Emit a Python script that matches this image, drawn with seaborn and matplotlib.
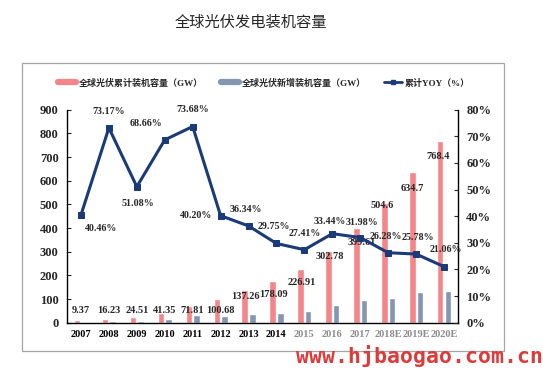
import numpy as np
import pandas as pd
import seaborn as sns
import matplotlib.pyplot as plt
from matplotlib.patches import Rectangle
from matplotlib.lines import Line2D

# data
years = ["2007", "2008", "2009", "2010", "2011", "2012", "2013", "2014",
         "2015", "2016", "2017", "2018E", "2019E", "2020E"]
cumulative = [9.37, 16.23, 24.51, 41.35, 71.81, 100.68, 137.26, 178.09,
              226.91, 302.78, 399.61, 504.6, 634.7, 768.4]
new_added = [2.6, 6.86, 8.28, 16.84, 30.46, 28.87, 36.58, 40.83,
             48.82, 75.87, 96.83, 104.99, 130.1, 133.7]
yoy = [40.46, 73.17, 51.08, 68.66, 73.68, 40.20, 36.34, 29.75,
       27.41, 33.44, 31.98, 26.28, 25.78, 21.06]

cum_label = "全球光伏累计装机容量（GW）"
new_label = "全球光伏新增装机容量（GW）"
yoy_label = "累计YOY（%）"

sns.set_style("white")
plt.rcParams["font.family"] = ["Liberation Serif", "Noto Sans CJK SC", "DejaVu Sans"]

red = "#F4868A"
grey = "#8496B0"
navy = "#1B3A78"

df = pd.DataFrame({
    "year": years * 2,
    "value": cumulative + new_added,
    "series": [cum_label] * len(years) + [new_label] * len(years),
})

fig = plt.figure(figsize=(5.43, 3.8), dpi=100)
# outer frame
fig.patches.append(Rectangle((22 / 543, 1 - 351 / 380), 482 / 543, 288 / 380,
                             transform=fig.transFigure, fill=False,
                             edgecolor="#A6A6A6", linewidth=0.9))

ax = fig.add_axes([67 / 543, 1 - 322.7 / 380, 391 / 543, 213 / 380])
sns.barplot(data=df, x="year", y="value", hue="series", order=years,
            palette=[red, grey], width=0.55, gap=0.15, ax=ax, legend=False,
            saturation=1)
ax.set_ylim(0, 900)
ax.set_xlim(-0.5, len(years) - 0.5)
ax.set_yticks(range(0, 901, 100))
ax.set_xlabel("")
ax.set_ylabel("")
for s in ["top", "right"]:
    ax.spines[s].set_visible(False)
for s in ["left", "bottom"]:
    ax.spines[s].set_color("black")
    ax.spines[s].set_linewidth(1.0)
ax.tick_params(axis="y", direction="in", length=3, labelsize=9, pad=6)
ax.tick_params(axis="x", length=0, labelsize=7.5, pad=5)
for t in ax.get_yticklabels():
    t.set_fontweight("bold")
for i, t in enumerate(ax.get_xticklabels()):
    t.set_fontweight("bold")
    t.set_color("black" if i < 8 else "#8C8C8C")

# cumulative labels
lab_y = [53, 53, 53, 53, 53, 53, 110, 121, 169, 281, 338, 497, 569, 701]
lab_dx = [0, 0, 0, 0, 0, 0, -0.1, -0.1, -0.1, -0.1, 0.05, -0.2, -0.15, -0.2]
for i, (v, y) in enumerate(zip(cumulative, lab_y)):
    ax.text(i + lab_dx[i], y, f"{v:g}" if v not in (100.68, 71.81, 41.35) else f"{v:.2f}",
            ha="center", va="center", fontsize=7.5, fontweight="bold")

ax2 = ax.twinx()
sns.lineplot(x=np.arange(len(years)), y=yoy, ax=ax2, color=navy, linewidth=2.2,
             marker="s", markersize=5, markeredgecolor=navy)
ax2.set_ylim(0, 80)
ax2.set_yticks(range(0, 81, 10))
ax2.set_yticklabels([f"{v}%" for v in range(0, 81, 10)])
for s in ["top", "left", "bottom"]:
    ax2.spines[s].set_visible(False)
ax2.spines["right"].set_color("black")
ax2.spines["right"].set_linewidth(1.0)
ax2.tick_params(axis="y", direction="in", length=3, labelsize=9, pad=6)
for t in ax2.get_yticklabels():
    t.set_fontweight("bold")

yoy_off = [(3, -10), (0, 12), (1, -12), (-2, 12), (0, 12), (-6, 0), (-2, 12), (-2, 12),
           (0, 12), (-2, 9), (1, 11), (-2, 12), (1, 12), (1, 12)]
yoy_ha = ["left", "center", "center", "right", "center", "right", "center", "center",
          "center", "center", "center", "center", "center", "center"]
for i, v in enumerate(yoy):
    ax2.annotate(f"{v:.2f}%", (i, v), xytext=yoy_off[i], textcoords="offset points",
                 ha=yoy_ha[i], va="center", fontsize=7.2, fontweight="bold")

# legend
handles = [Line2D([], [], color=red, linewidth=4.5),
           Line2D([], [], color=grey, linewidth=4.5),
           Line2D([], [], color=navy, linewidth=2, marker="s", markersize=3.5)]
fig.legend(handles, [cum_label, new_label, yoy_label], loc="center",
           bbox_to_anchor=(264 / 543, 1 - 83 / 380), ncol=3, frameon=False,
           prop={"size": 6.5, "weight": "bold"}, handlelength=2.0,
           handletextpad=0.3, columnspacing=2.0)

fig.text(251 / 543, 1 - 22 / 380, "全球光伏发电装机容量", ha="center", va="center",
         fontsize=11, family=["Noto Sans CJK SC", "DejaVu Sans"])

fig.text(543 / 543, 1 - 356 / 380, "www.hjbaogao.com.cn",
         ha="right", va="center", fontsize=15.5, fontweight="bold",
         color="#DD3B3B", family="DejaVu Sans Mono")

fig.savefig("out.png", dpi=100)
